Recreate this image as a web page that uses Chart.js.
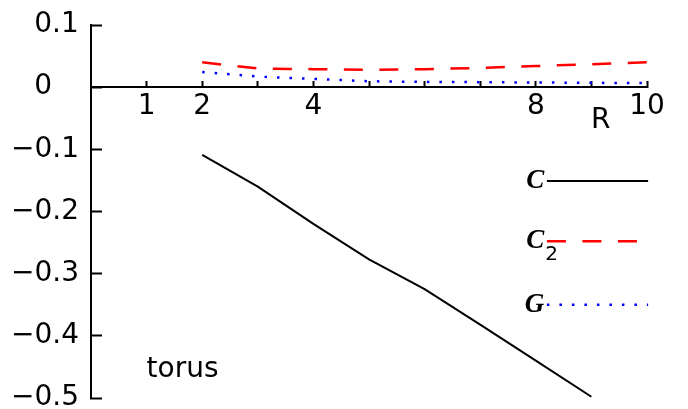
<!DOCTYPE html>
<html>
<head>
<meta charset="utf-8">
<script src="https://cdn.jsdelivr.net/npm/chart.js@4"></script>
<style>
  html, body { margin: 0; padding: 0; background: #fff; }
  #wrap { width: 688px; height: 409px; }
</style>
</head>
<body>
<div id="wrap"><canvas id="chart" width="688" height="409"></canvas></div>
<script>
// Radius values and the three curves computed for the torus
const R_VALUES  = [2, 3, 4, 5, 6, 7, 8, 9, 10];
const C_VALUES  = [-0.109, -0.160, -0.220, -0.277, -0.325, -0.382, -0.440, -0.498, null];
const C2_VALUES = [0.040, 0.030, 0.029, 0.028, 0.029, 0.031, 0.034, 0.037, 0.040];
const G_VALUES  = [0.0245, 0.017, 0.0133, 0.0095, 0.0085, 0.008, 0.0075, 0.007, 0.0065];

// Axis ticks
const X_TICKS = [1, 2, 3, 4, 5, 6, 7, 8, 9, 10];
const X_TICK_LABELS = [1, 2, 4, 8, 10];
const Y_TICKS = [-0.5, -0.4, -0.3, -0.2, -0.1, 0, 0.1];

const SANS = '"DejaVu Sans", "Liberation Sans", sans-serif';
const SERIF_ITALIC = 'italic bold 27px "Liberation Serif", "DejaVu Serif", serif';

// Spacer as wide as the minus sign, so digits line up on the "0"
const MINUS_SPACE = '\u2002\u2004';

function yLabel(v) {
  if (Math.abs(v) < 1e-9) return MINUS_SPACE + '0';
  if (v < 0) return '\u2212' + Math.abs(v).toFixed(1);
  return MINUS_SPACE + v.toFixed(1);
}

function toPoints(values) {
  return R_VALUES.map((r, i) => ({ x: r, y: values[i] }));
}

// Axis caption, plot caption and the line-sample key
const annotations = {
  id: 'annotations',
  afterDraw(chart) {
    const { ctx } = chart;
    const xs = chart.scales.x, ys = chart.scales.y;
    ctx.save();
    ctx.fillStyle = '#000';
    ctx.textBaseline = 'middle';

    ctx.font = '28px ' + SANS;
    ctx.textAlign = 'center';
    ctx.fillText('R', xs.getPixelForValue(9.17), ys.getPixelForValue(-0.054));
    ctx.textAlign = 'left';
    ctx.fillText('torus', xs.getPixelForValue(1.0), ys.getPixelForValue(-0.454));

    const rows = [-0.151, -0.248, -0.350];
    const textRight = xs.getPixelForValue(8.15);
    const lineStart = xs.getPixelForValue(8.20);
    const lineEnd = xs.getPixelForValue(10.02);
    chart.data.datasets.forEach((ds, i) => {
      const yy = ys.getPixelForValue(rows[i]);
      const main = ds.label.charAt(0);
      const sub = ds.label.slice(1);
      ctx.fillStyle = '#000';
      ctx.font = SERIF_ITALIC;
      ctx.textAlign = 'right';
      ctx.textBaseline = 'middle';
      ctx.fillText(main, textRight, yy);
      if (sub) {
        ctx.font = '20px ' + SANS;
        ctx.textAlign = 'left';
        ctx.fillText(sub, textRight + 1, yy + 13);
      }
      ctx.beginPath();
      ctx.strokeStyle = ds.borderColor;
      ctx.lineWidth = ds.borderWidth;
      ctx.lineCap = 'butt';
      ctx.setLineDash(ds.borderDash || []);
      ctx.moveTo(lineStart, yy);
      ctx.lineTo(lineEnd, yy);
      ctx.stroke();
      ctx.setLineDash([]);
    });
    ctx.restore();
  }
};

new Chart(document.getElementById('chart'), {
  type: 'line',
  data: {
    datasets: [
      { label: 'C',  data: toPoints(C_VALUES),  borderColor: '#000000', borderWidth: 2 },
      { label: 'C2', data: toPoints(C2_VALUES), borderColor: '#ff0000', borderWidth: 2.5, borderDash: [19, 16.5] },
      { label: 'G',  data: toPoints(G_VALUES),  borderColor: '#0000ff', borderWidth: 2.5, borderDash: [2.5, 10] }
    ]
  },
  options: {
    responsive: false,
    animation: false,
    devicePixelRatio: 1,
    layout: { padding: { left: 11, right: 41, top: 25, bottom: 11 } },
    plugins: { legend: { display: false }, tooltip: { enabled: false } },
    elements: {
      point: { radius: 0 },
      line: { tension: 0, borderCapStyle: 'butt', fill: false }
    },
    scales: {
      x: {
        type: 'linear',
        min: 0,
        max: 10,
        position: { y: 0 },
        afterBuildTicks: s => { s.ticks = X_TICKS.map(v => ({ value: v })); },
        afterFit: s => { s.height = 0; s.paddingLeft = 0; s.paddingRight = 0; },
        grid: { drawOnChartArea: false, tickLength: -7, tickWidth: 2, tickColor: '#000' },
        border: { display: true, color: '#000', width: 2 },
        ticks: {
          color: '#000',
          font: { family: SANS, size: 28 },
          padding: 10,
          maxRotation: 0,
          autoSkip: false,
          callback: v => (X_TICK_LABELS.includes(v) ? String(v) : '')
        }
      },
      y: {
        type: 'linear',
        min: -0.5,
        max: 0.1,
        position: 'left',
        afterBuildTicks: s => { s.ticks = Y_TICKS.map(v => ({ value: v })); },
        afterFit: s => { s.width = 80; s.paddingTop = 0; s.paddingBottom = 0; },
        grid: { drawOnChartArea: false, tickLength: -11, tickWidth: 2, tickColor: '#000' },
        border: { display: true, color: '#000', width: 2 },
        ticks: {
          color: '#000',
          font: { family: SANS, size: 28 },
          crossAlign: 'far',
          padding: 0,
          autoSkip: false,
          callback: v => yLabel(v)
        }
      }
    }
  },
  plugins: [annotations]
});
</script>
</body>
</html>
